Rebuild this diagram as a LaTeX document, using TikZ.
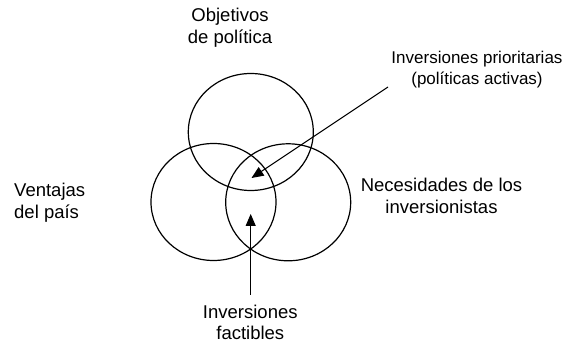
\documentclass[tikz,border=0pt]{standalone}
\usepackage{fontspec}
\setmainfont{Liberation Sans}
\usetikzlibrary{arrows.meta,shapes.geometric}
\begin{document}
\begin{tikzpicture}[x=1pt,y=-1pt,
  venn/.style={draw, line width=1.2pt, ellipse, minimum width=125pt, minimum height=117pt, inner sep=0pt},
  lbl/.style={inner sep=0pt, align=center, font=\fontsize{18.5}{21.5}\selectfont},
  lblsmall/.style={inner sep=0pt, align=center, font=\fontsize{17}{20.7}\selectfont},
  arr/.style={line width=1pt, -{Triangle[length=12pt,width=10pt]}}]
\useasboundingbox (0,0) rectangle (582,344);
\node[venn] (top) at (250.8,132) {};
\node[venn] (left) at (213.5,202) {};
\node[venn] (right) at (288.2,202.3) {};
\node[lbl] (obj) at (230,27.8) {Objetivos\\de política};
\node[lblsmall] (prio) at (477,69.3) {Inversiones prioritarias\\(políticas activas)};
\node[lbl, align=left, anchor=west] (vent) at (14,202.9) {Ventajas\\del país};
\node[lbl] (nec) at (441.5,195.9) {Necesidades de los\\inversionistas};
\node[lbl] (fact) at (250.3,322.5) {Inversiones\\factibles};
\coordinate (s1) at (388,87);
\coordinate (t1) at (251.5,178);
\coordinate (s2) at (250.7,295);
\coordinate (t2) at (250.7,214);
\draw[arr] (s1) -- (t1);
\draw[arr] (s2) -- (t2);
\end{tikzpicture}
\end{document}
